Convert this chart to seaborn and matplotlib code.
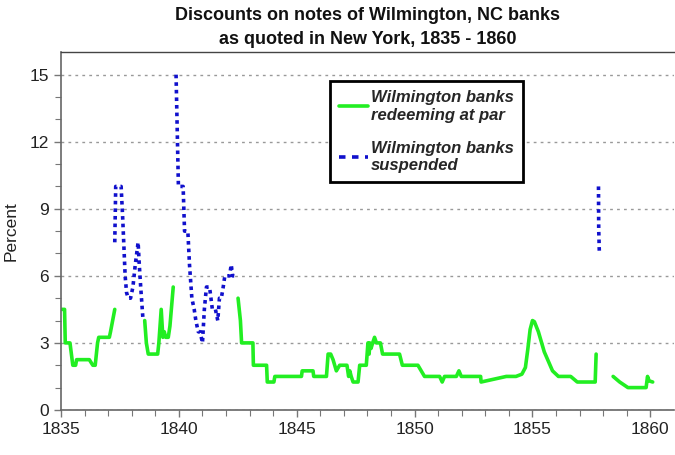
import numpy as np
import pandas as pd
import matplotlib
matplotlib.use("Agg")
import matplotlib.pyplot as plt
from matplotlib.lines import Line2D
import seaborn as sns

# ---- data ----
g1_years = [1835.0, 1835.15, 1835.18, 1835.38, 1835.5, 1835.62, 1835.66, 1836.2, 1836.35,
            1836.45, 1836.55, 1836.6, 1837.05, 1837.1, 1837.28]
g1_vals = [4.5, 4.5, 3.0, 3.0, 2.0, 2.0, 2.25, 2.25, 2.0, 2.0, 3.0, 3.25, 3.25, 3.5, 4.5]

b1_years = [1837.28, 1837.32, 1837.55, 1837.62, 1837.72, 1837.78, 1837.85, 1837.95, 1838.05,
            1838.15, 1838.27, 1838.32, 1838.38, 1838.48]
b1_vals = [7.5, 10.0, 10.0, 8.5, 6.0, 5.25, 5.0, 5.0, 5.5, 6.5, 7.5, 6.5, 5.5, 4.0]

g2_years = [1838.55, 1838.62, 1838.7, 1839.1, 1839.15, 1839.25, 1839.32, 1839.38, 1839.44,
            1839.55, 1839.62, 1839.76]
g2_vals = [4.0, 3.0, 2.5, 2.5, 3.0, 4.5, 3.25, 3.5, 3.25, 3.25, 3.75, 5.5]

b2_years = [1839.88, 1839.98, 1840.18, 1840.24, 1840.38, 1840.45, 1840.55, 1840.65, 1840.72,
            1840.82, 1840.9, 1841.0, 1841.08, 1841.17, 1841.3, 1841.42, 1841.55, 1841.65,
            1841.72, 1841.8, 1841.88, 1841.95, 1842.15, 1842.22, 1842.28, 1842.5]
b2_vals = [15.0, 10.0, 10.0, 8.0, 8.0, 6.5, 5.0, 4.5, 4.0, 3.5, 3.5, 3.0, 4.5, 5.5, 5.5, 4.5,
           4.5, 4.0, 5.0, 5.0, 5.5, 6.0, 6.0, 6.5, 6.0, 6.0]

g3_years = [1842.51, 1842.61, 1842.66, 1843.14, 1843.16, 1843.72, 1843.75, 1844.03, 1844.07,
            1845.2, 1845.23, 1845.69, 1845.72, 1846.26, 1846.33, 1846.44, 1846.54, 1846.68,
            1846.82, 1847.13, 1847.2, 1847.25, 1847.31, 1847.39, 1847.6, 1847.67, 1847.95,
            1848.02, 1848.07, 1848.1, 1848.15, 1848.22, 1848.3, 1848.38, 1848.55, 1848.64,
            1849.36, 1849.48, 1850.14, 1850.42, 1851.06, 1851.17, 1851.27, 1851.77, 1851.88,
            1851.98, 1852.8, 1852.82, 1853.89, 1854.3, 1854.55, 1854.7, 1854.8, 1854.9,
            1855.0, 1855.08, 1855.25, 1855.5, 1855.85, 1856.1, 1856.62, 1856.9, 1857.66,
            1857.7]
g3_vals = [5.0, 4.0, 3.0, 3.0, 2.0, 2.0, 1.25, 1.25, 1.5,
           1.5, 1.75, 1.75, 1.5, 1.5, 2.5, 2.5, 2.25, 1.75,
           2.0, 2.0, 1.5, 1.75, 1.5, 1.25, 1.25, 2.0, 2.0,
           3.0, 2.5, 3.0, 2.75, 3.0, 3.25, 3.0, 3.0, 2.5,
           2.5, 2.0, 2.0, 1.5, 1.5, 1.25, 1.5, 1.5, 1.75,
           1.5, 1.5, 1.25, 1.5, 1.5, 1.6, 1.9, 2.7, 3.6,
           4.0, 3.95, 3.5, 2.6, 1.75, 1.5, 1.5, 1.25, 1.25,
           2.5]

b3_years = [1857.8, 1857.81, 1857.82, 1857.83, 1857.84]
b3_vals = [10.0, 8.0, 7.75, 7.25, 7.0]

g4_years = [1858.42, 1858.7, 1859.05, 1859.82, 1859.88, 1859.95, 1860.1]
g4_vals = [1.5, 1.25, 1.0, 1.0, 1.5, 1.3, 1.25]

labels = ["Wilmington banks\nredeeming at par", "Wilmington banks\nsuspended"]
title = "Discounts on notes of Wilmington, NC banks\nas quoted in New York, 1835 - 1860"

segments = [
    (g1_years, g1_vals, labels[0]), (b1_years, b1_vals, labels[1]),
    (g2_years, g2_vals, labels[0]), (b2_years, b2_vals, labels[1]),
    (g3_years, g3_vals, labels[0]), (b3_years, b3_vals, labels[1]),
    (g4_years, g4_vals, labels[0]),
]
rows = []
for i, (ys, vs, lab) in enumerate(segments):
    for y, v in zip(ys, vs):
        rows.append({"year": y, "pct": v, "status": lab, "seg": i})
df = pd.DataFrame(rows)

GREEN = "#22EE22"
BLUE = "#1010CC"

sns.set_theme(style="white")
plt.rcParams["font.family"] = ["Liberation Sans", "DejaVu Sans"]

fig = plt.figure(figsize=(6.75, 4.55), dpi=100)
ax = fig.add_axes([0.0904, 0.099, 0.908, 0.786])

sns.lineplot(data=df, x="year", y="pct", hue="status", style="status", units="seg",
             estimator=None, sort=False, ax=ax,
             palette={labels[0]: GREEN, labels[1]: BLUE},
             dashes={labels[0]: "", labels[1]: (1.0, 1.1)},
             linewidth=2.6, legend=False)

ax.set_xlim(1835, 1861)
ax.set_ylim(0, 16)
ax.set_xticks([1835, 1840, 1845, 1850, 1855, 1860])
ax.set_xticks(np.arange(1835, 1861, 1), minor=True)
ax.set_yticks([0, 3, 6, 9, 12, 15])
ax.set_yticks(np.arange(0, 16, 1), minor=True)
ax.tick_params(axis="both", which="both", direction="out", colors="#777777",
               labelcolor="#222222", labelsize=12.5)
ax.tick_params(axis="both", which="major", length=5, width=1)
ax.tick_params(axis="both", which="minor", length=4, width=0.8)
ax.tick_params(axis="y", which="both", left=True)
ax.tick_params(axis="x", which="both", bottom=True)
ax.yaxis.grid(True, which="major", color="#999999", linestyle=(0, (2, 3)), linewidth=1)
ax.xaxis.grid(False)

for s in ["left", "bottom"]:
    ax.spines[s].set_color("#666666")
    ax.spines[s].set_linewidth(1.2)
ax.spines["right"].set_visible(False)
ax.spines["top"].set_visible(True)
ax.spines["top"].set_color("#444444")
ax.spines["top"].set_linewidth(1.0)

ax.set_xlabel("")
ax.set_ylabel("Percent", fontsize=12.5, color="#222222", labelpad=8)
ax.set_title(title, fontsize=13, fontweight="bold", color="#111111", pad=6,
             linespacing=1.5)

handles = [Line2D([0], [0], color=GREEN, lw=2.6),
           Line2D([0], [0], color=BLUE, lw=2.6, dashes=(1.8, 1.8))]
leg = ax.legend(handles, labels, loc="upper left", bbox_to_anchor=(0.439, 0.92),
                borderaxespad=0,
                frameon=True, fancybox=False, framealpha=1, edgecolor="black",
                prop={"size": 12, "weight": "bold", "style": "italic"},
                handlelength=1.7, handletextpad=0.2, borderpad=0.55, labelspacing=1.1)
leg.get_frame().set_linewidth(2)

fig.savefig("out.png", dpi=100)
